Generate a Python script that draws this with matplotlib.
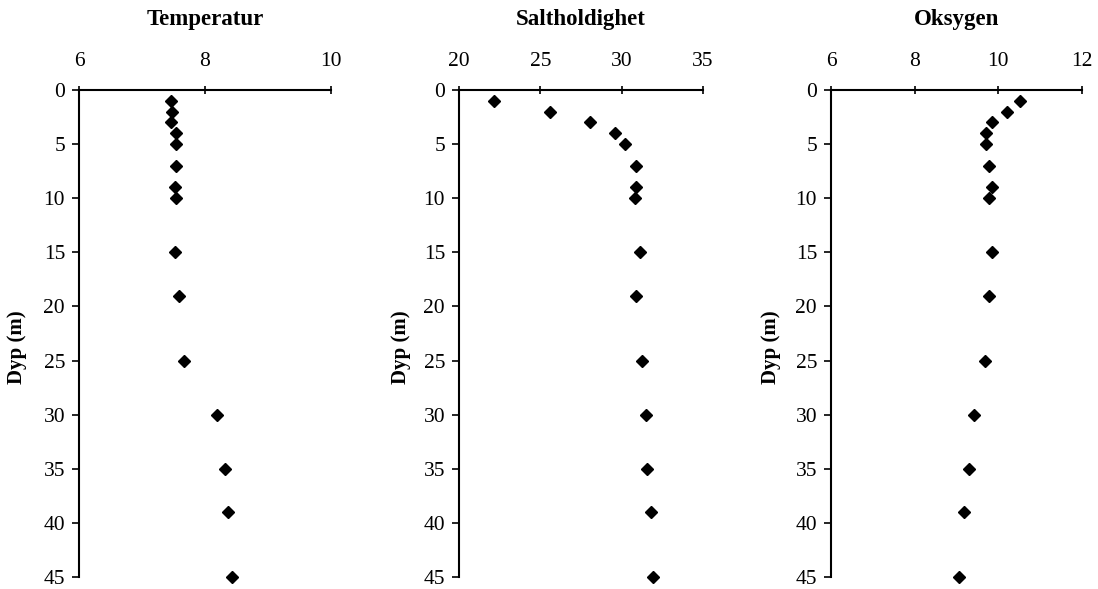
import matplotlib
matplotlib.use("Agg")
import matplotlib.pyplot as plt

depth = [1, 2, 3, 4, 5, 7, 9, 10, 15, 19, 25, 30, 35, 39, 45]
temperatur = [7.46, 7.48, 7.46, 7.54, 7.54, 7.54, 7.53, 7.54, 7.53, 7.59, 7.67, 8.19, 8.31, 8.37, 8.43]
saltholdighet = [22.15, 25.57, 28.03, 29.57, 30.19, 30.9, 30.9, 30.84, 31.1, 30.9, 31.27, 31.47, 31.58, 31.82, 31.9]
oksygen = [10.51, 10.21, 9.85, 9.70, 9.70, 9.77, 9.86, 9.78, 9.85, 9.77, 9.67, 9.43, 9.31, 9.17, 9.07]

titles = ["Temperatur", "Saltholdighet", "Oksygen"]
series = [temperatur, saltholdighet, oksygen]
xlims = [(6, 10), (20, 35), (6, 12)]
xticks = [[6, 8, 10], [20, 25, 30, 35], [6, 8, 10, 12]]
yticks = [0, 5, 10, 15, 20, 25, 30, 35, 40, 45]
ylabel = "Dyp (m)"

plt.rcParams['font.family'] = ['Liberation Serif', 'DejaVu Serif']

W, H = 1098, 589
fig = plt.figure(figsize=(W / 100, H / 100), dpi=100)

boxes = [(79, 331), (459, 703), (831, 1082)]
top, bottom = 90, 577
label_x = [27, 411, 781]

for i in range(3):
    l, r = boxes[i]
    ax = fig.add_axes([l / W, 1 - bottom / H, (r - l) / W, (bottom - top) / H])
    ax.plot(series[i], depth, linestyle='none', marker='D', markersize=6.5,
            color='black', clip_on=False)
    ax.set_xlim(*xlims[i])
    ax.set_ylim(45, 0)
    ax.set_xticks(xticks[i])
    ax.set_yticks(yticks)
    ax.xaxis.tick_top()
    for s in ['right', 'bottom']:
        ax.spines[s].set_visible(False)
    for s in ['left', 'top']:
        ax.spines[s].set_linewidth(1.5)
    ax.tick_params(axis='x', direction='inout', length=6, width=1.2,
                   labelsize=15.5, pad=11)
    ax.tick_params(axis='y', direction='out', length=5, width=1.2,
                   labelsize=15.5, pad=5)
    ax.set_ylabel(ylabel, fontsize=15, fontweight='bold')
    ax.yaxis.set_label_coords((label_x[i] - l) / (r - l), 0.472)
    fig.text(((l + r) / 2) / W, 1 - 20 / H, titles[i], ha='center',
             va='center', fontsize=16.5, fontweight='bold')

fig.savefig("out.png", dpi=100)
